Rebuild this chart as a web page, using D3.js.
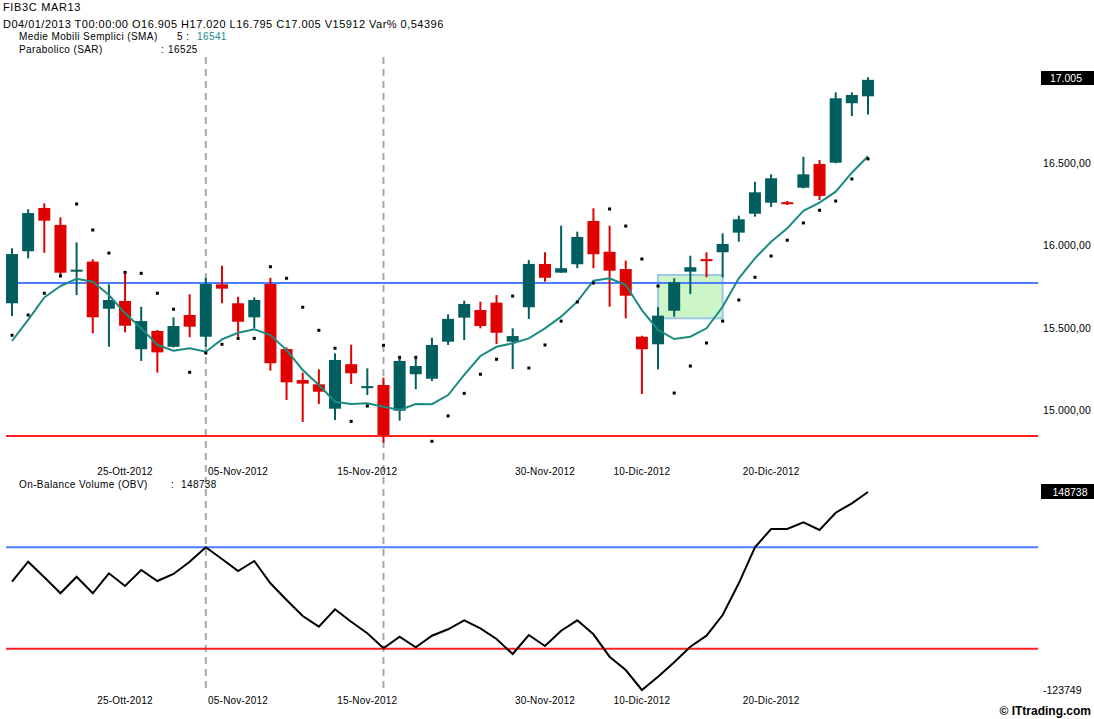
<!DOCTYPE html>
<html><head><meta charset="utf-8">
<script src="https://cdn.jsdelivr.net/npm/d3@7"></script>
<style>
body{margin:0;background:#fff}
svg{display:block}
text{font-family:"Liberation Sans",Arial,sans-serif;fill:#000}
</style>
</head><body>
<svg id="c" width="1094" height="719"></svg>
<script>
// ---------------- DATA ----------------
const dates = [
 "2012-10-16","2012-10-17","2012-10-18","2012-10-19","2012-10-22","2012-10-23","2012-10-24","2012-10-25","2012-10-26","2012-10-29","2012-10-30","2012-10-31",
 "2012-11-01","2012-11-02","2012-11-05","2012-11-06","2012-11-07","2012-11-08","2012-11-09","2012-11-12","2012-11-13","2012-11-14","2012-11-15","2012-11-16",
 "2012-11-19","2012-11-20","2012-11-21","2012-11-22","2012-11-23","2012-11-26","2012-11-27","2012-11-28","2012-11-29","2012-11-30",
 "2012-12-03","2012-12-04","2012-12-05","2012-12-06","2012-12-07","2012-12-10","2012-12-11","2012-12-12","2012-12-13","2012-12-14",
 "2012-12-17","2012-12-18","2012-12-19","2012-12-20","2012-12-21","2012-12-27","2012-12-28","2013-01-02","2013-01-03","2013-01-04"];
const open  = [15648,15964,16227,16124,15845,15901,15615,15662,15369,15480,15384,15577,15445,15763,15648,15563,15765,15370,15182,15156,15008,15278,15140,15152,14996,15217,15190,15415,15561,15607,15652,15415,15624,15887,15834,15885,16148,15961,15856,15445,15399,15603,15840,15916,15958,16077,16192,16259,16262,16350,16494,16502,16863,16905];
const high  = [15982,16219,16255,16170,16018,15915,15763,15836,15627,15486,15563,15703,15803,15876,15688,15684,15803,15380,15227,15247,15344,15397,15253,15196,15324,15324,15439,15581,15664,15658,15698,15496,15911,15958,16119,16083,16225,16119,15907,15451,15624,15800,15937,15958,16073,16180,16386,16431,16270,16538,16518,16929,16929,17020];
const low   = [15571,15921,15955,15814,15698,15466,15384,15472,15298,15227,15380,15442,15384,15648,15445,15496,15239,15061,14927,15036,14939,15158,15091,14801,14935,15126,15176,15395,15425,15496,15401,15249,15553,15779,15834,15861,15861,15627,15557,15097,15247,15567,15704,15806,15806,16022,16174,16233,16245,16346,16275,16498,16785,16795];
const close = [15947,16196,16150,15834,15852,15563,15668,15512,15540,15350,15510,15506,15765,15737,15536,15668,15284,15168,15160,15111,15304,15223,15145,14848,15298,15267,15395,15553,15644,15510,15469,15449,15887,15803,15861,16051,15946,15846,15694,15369,15573,15776,15867,15910,16008,16158,16322,16407,16256,16431,16300,16893,16913,17005];
const sma   = [15419,15547,15684,15753,15797,15779,15698,15587,15496,15395,15360,15375,15354,15429,15469,15490,15455,15364,15243,15152,15050,15036,15041,15020,15000,15036,15035,15091,15213,15328,15384,15405,15435,15496,15567,15658,15785,15800,15759,15607,15486,15431,15445,15496,15627,15800,15921,16022,16103,16210,16259,16326,16441,16541];
const sar   = [15454,15577,15709,15814,16251,16093,15953,15836,15830,15709,15612,15229,15346,15399,15435,15435,15870,15800,15624,15484,15375,14931,15024,15393,15320,15320,14810,14964,15101,15217,15308,15692,15255,15395,15540,15656,15771,16221,16117,15917,15753,15103,15267,15407,15540,15668,15806,15935,16031,16136,16213,16269,16403,16525];
const obv   = [25293,52817,31348,9329,32174,9329,36853,19375,41394,26256,35890,52817,72634,56533,40018,53780,23091,108,-21911,-36636,-12690,-29755,-45719,-66362,-50398,-64986,-49022,-40214,-27828,-38838,-53563,-74206,-48059,-63197,-42141,-27828,-47095,-77922,-96226,-123749,-105446,-85629,-64160,-49022,-20535,23091,72634,97819,97819,107039,96442,120251,133187,148738];

const tickDates  = ["2012-10-25","2012-11-05","2012-11-15","2012-11-30","2012-12-10","2012-12-20"];
const tickLabels = ["25-Ott-2012","05-Nov-2012","15-Nov-2012","30-Nov-2012","10-Dic-2012","20-Dic-2012"];
const priceTicks = [15000,15500,16000,16500];
const priceLevels = [15771,14842];      // blue, red
const obvLevels   = [72634,-67000];     // blue, red
const obvRange    = [-123749,148738];
const markerDates = ["2012-11-01","2012-11-16"];
const boxDates  = ["2012-12-11","2012-12-17"];
const boxPrices = [15820,15557];
const lastPrice = 17005, lastSMA = 16541, lastSAR = 16525, lastOBV = 148738;
const headerLines = ["FIB3C MAR13","D04/01/2013 T00:00:00 O16.905 H17.020 L16.795 C17.005 V15912 Var% 0,54396"];

// ---------------- CHART ----------------
const svg = d3.select("#c");
const itFmt = d3.formatLocale({decimal:",",thousands:".",grouping:[3],currency:["","€"]});
const fmtAxis = itFmt.format(",.2f");

const x = d3.scalePoint().domain(dates).range([12,868]);
const yP = d3.scaleLinear().domain([15000,16500]).range([410,163]);
const yO = d3.scaleLinear().domain(obvRange).range([690,492]);

const TEAL="#005e5e", RED="#e00000", SMAC="#1a8a82", BLUE="#4a7dff", REDL="#ff2020";

// dashed vertical markers
svg.append("g").selectAll("line").data(markerDates).join("line")
  .attr("x1",d=>x(d)).attr("x2",d=>x(d)).attr("y1",57).attr("y2",692)
  .attr("stroke","#a8a8a8").attr("stroke-width",2).attr("stroke-dasharray","7,5");

// highlight box
svg.append("rect")
  .attr("x",x(boxDates[0])).attr("y",yP(boxPrices[0]))
  .attr("width",x(boxDates[1])-x(boxDates[0])).attr("height",yP(boxPrices[1])-yP(boxPrices[0]))
  .attr("fill","#ccf5c8").attr("stroke","#9cc8ee").attr("stroke-width",2);

// price level lines
svg.append("g").selectAll("line").data(priceLevels).join("line")
  .attr("x1",6).attr("x2",1038).attr("y1",d=>yP(d)).attr("y2",d=>yP(d))
  .attr("stroke",(d,i)=>i===0?BLUE:REDL).attr("stroke-width",2);

// candles
const idx = d3.range(dates.length);
const cg = svg.append("g");
cg.selectAll("line").data(idx).join("line")
  .attr("x1",i=>x(dates[i])).attr("x2",i=>x(dates[i]))
  .attr("y1",i=>yP(high[i])).attr("y2",i=>yP(low[i]))
  .attr("stroke",i=>close[i]>=open[i]?TEAL:RED).attr("stroke-width",2);
cg.selectAll("rect").data(idx).join("rect")
  .attr("x",i=>x(dates[i])-6).attr("width",12)
  .attr("y",i=>Math.min(yP(open[i]),yP(close[i])))
  .attr("height",i=>Math.max(2,Math.abs(yP(open[i])-yP(close[i]))))
  .attr("fill",i=>close[i]>=open[i]?TEAL:RED);

// SMA line
svg.append("path").datum(idx)
  .attr("d",d3.line().x(i=>x(dates[i])).y(i=>yP(sma[i])))
  .attr("fill","none").attr("stroke",SMAC).attr("stroke-width",2);

// SAR dots
svg.append("g").selectAll("rect").data(idx).join("rect")
  .attr("x",i=>x(dates[i])-1.5).attr("y",i=>yP(sar[i])-1.5)
  .attr("width",3).attr("height",3).attr("fill","#000");

// price axis
const ax = svg.append("g").attr("transform","translate(1043,0)")
  .call(d3.axisRight(yP).tickValues(priceTicks).tickSize(0).tickPadding(0).tickFormat(fmtAxis));
ax.select(".domain").remove();
ax.selectAll("text").attr("font-size",10.5).attr("letter-spacing",0.15).attr("font-family",'"Liberation Sans",Arial,sans-serif').attr("fill","#000");

// last price box
svg.append("rect").attr("x",1041).attr("y",71).attr("width",53).attr("height",14).attr("fill","#000");
svg.append("text").attr("x",1066).attr("y",82).attr("text-anchor","middle").attr("font-size",10.5)
  .style("fill","#fff").text(d3.format(",")(lastPrice).replace(",","."));

// date labels (two rows)
[475,704].forEach(yy=>{
  svg.append("g").selectAll("text").data(tickDates).join("text")
    .attr("x",d=>x(d)).attr("y",yy).attr("text-anchor","middle")
    .attr("font-size",10).attr("letter-spacing",0.2)
    .text((d,i)=>tickLabels[i]);
});

// header
svg.append("text").attr("x",3).attr("y",10.5).attr("font-size",11).attr("letter-spacing",0.65).text(headerLines[0]);
svg.append("text").attr("x",3).attr("y",27.5).attr("font-size",11).attr("letter-spacing",0.48).text(headerLines[1]);
const h3 = svg.append("g").attr("font-size",10).attr("letter-spacing",0.4);
h3.append("text").attr("x",19).attr("y",39.5).text("Medie Mobili Semplici (SMA)");
h3.append("text").attr("x",177).attr("y",39.5).text("5 :");
h3.append("text").attr("x",197).attr("y",39.5).style("fill","#1a8a8a").text(lastSMA);
h3.append("text").attr("x",19).attr("y",53).text("Parabolico (SAR)");
h3.append("text").attr("x",161).attr("y",53).text(":");
h3.append("text").attr("x",168).attr("y",53).text(lastSAR);

// OBV panel
svg.append("g").selectAll("line").data(obvLevels).join("line")
  .attr("x1",6).attr("x2",1038).attr("y1",d=>yO(d)).attr("y2",d=>yO(d))
  .attr("stroke",(d,i)=>i===0?BLUE:REDL).attr("stroke-width",2);
svg.append("path").datum(idx)
  .attr("d",d3.line().x(i=>x(dates[i])).y(i=>yO(obv[i])))
  .attr("fill","none").attr("stroke","#000").attr("stroke-width",2);

const h4 = svg.append("g").attr("font-size",10).attr("letter-spacing",0.4);
h4.append("text").attr("x",19).attr("y",487.5).text("On-Balance Volume (OBV)");
h4.append("text").attr("x",171).attr("y",487.5).text(":");
h4.append("text").attr("x",181).attr("y",487.5).text(lastOBV);

svg.append("rect").attr("x",1041).attr("y",484).attr("width",53).attr("height",15).attr("fill","#000");
svg.append("text").attr("x",1070).attr("y",495.5).attr("text-anchor","middle").attr("font-size",10.5)
  .style("fill","#fff").text(obvRange[1]);
svg.append("text").attr("x",1043).attr("y",694).attr("font-size",10.5).text(obvRange[0]);

svg.append("text").attr("x",1091).attr("y",715).attr("text-anchor","end").attr("font-size",12)
  .attr("font-weight","bold").text("© ITtrading.com");
</script>
</body></html>
